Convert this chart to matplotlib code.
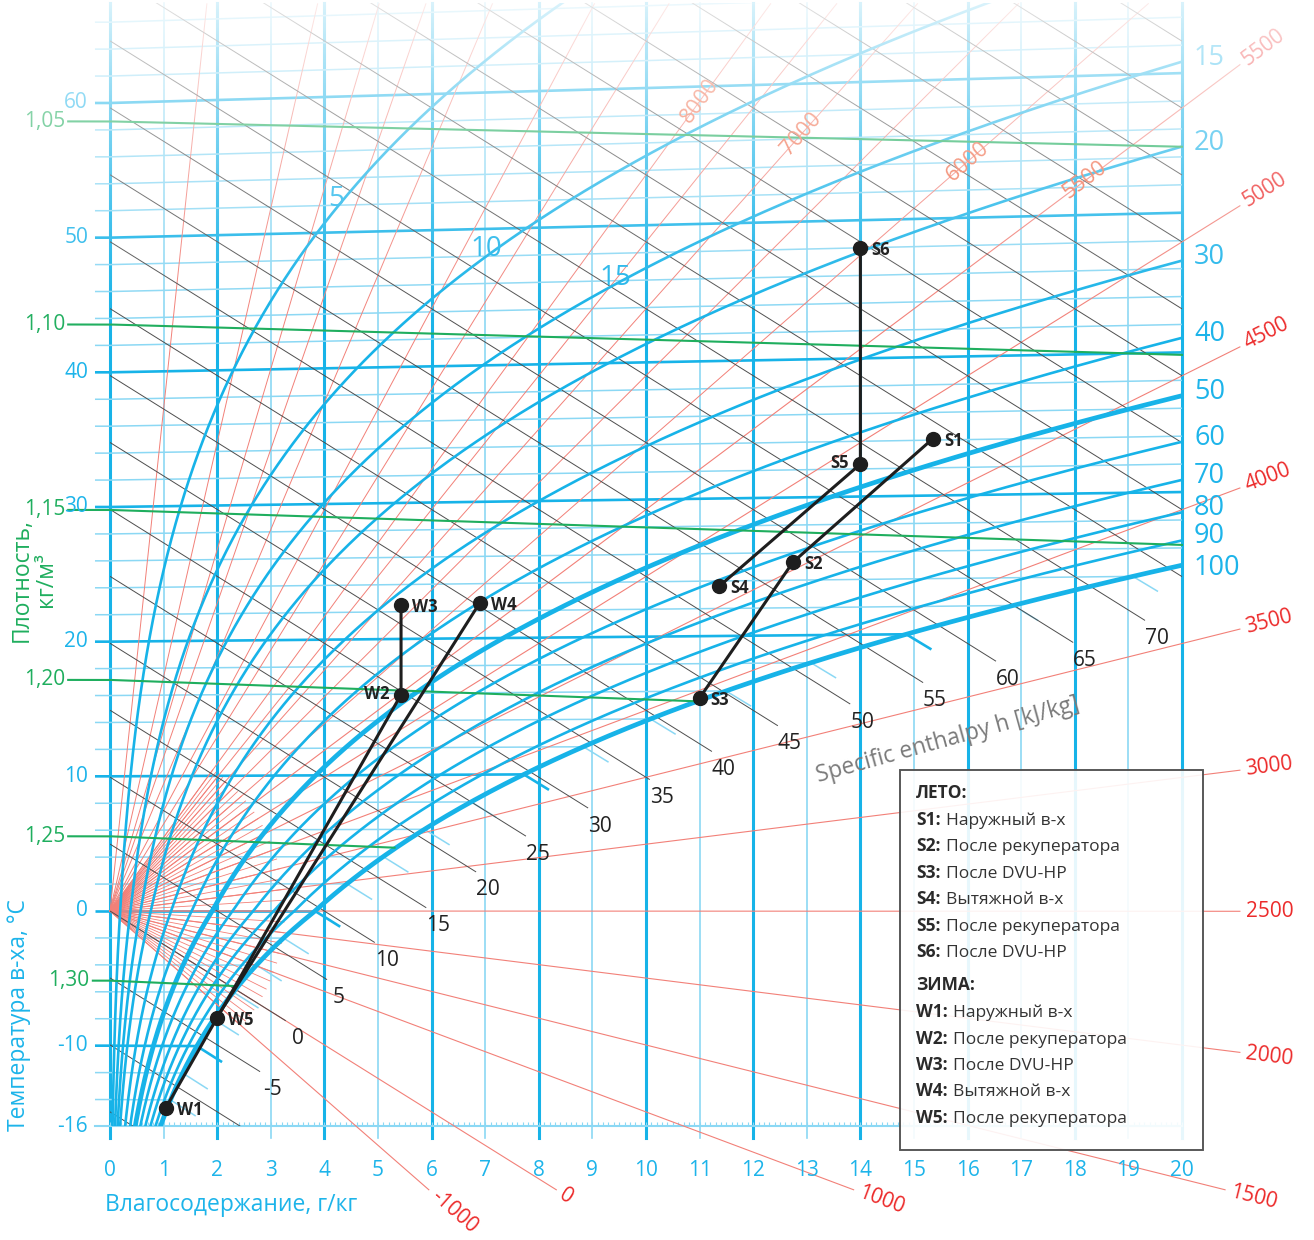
import numpy as np
import matplotlib.pyplot as plt
from matplotlib.patches import Rectangle

plt.rcParams['font.family'] = ['Open Sans', 'DejaVu Sans']

# --- данные диаграммы ---
p_atm = 100000.0  # Па

x_ticks = list(range(0, 21))
t_grid = list(range(-16, 67, 2))
t_labels = [-16, -10, 0, 10, 20, 30, 40, 50, 60]

rh_curves = [5, 10, 15, 20, 30, 40, 50, 60, 70, 80, 90, 100]
rh_thick = [50, 100]
rh_right = [15, 20, 30, 40, 50, 60, 70, 80, 90, 100]
rh_inner = [5, 10, 15]
rh_inner_x = [4.3, 7.1, 9.5]

rho_values = [1.05, 1.10, 1.15, 1.20, 1.25, 1.30]
rho_text = ['1,05', '1,10', '1,15', '1,20', '1,25', '1,30']

h_lines = list(range(-15, 120, 5))
h_labeled = list(range(-5, 75, 5))
h_end_x = [2.80, 3.28, 4.05, 4.94, 5.90, 6.83, 7.76, 8.92, 10.07, 11.23,
           12.46, 13.81, 15.17, 16.53, 17.97, 19.31]

k_outer = [-1000, 0, 1000, 1500, 2000, 2500, 3000, 3500, 4000, 4500, 5000, 5500]
k_inner = [5500, 6000, 7000, 8000]
k_inner_x = [18.2, 16.0, 12.9, 11.0]
k_thin = [6000, 6500, 7000, 7500, 8000, 9000, 10000, 12000, 14000, 16000, 20000, 40000]
k_fan = list(range(-1000, 8001, 250))

pt_names = ['S1', 'S2', 'S3', 'S4', 'S5', 'S6', 'W1', 'W2', 'W3', 'W4', 'W5']
pt_x = [15.35, 12.74, 11.0, 11.36, 14.0, 14.0, 1.04, 5.43, 5.43, 6.9, 1.99]
pt_t = [34.1, 25.3, 15.5, 23.6, 32.35, 48.0, -14.6, 15.9, 22.5, 22.6, -7.9]
paths = [['S1', 'S2', 'S3'], ['S4', 'S5', 'S6'], ['W1', 'W2', 'W3'], ['W4', 'W5']]

legend_summer = [('S1:', 'Наружный в-х'), ('S2:', 'После рекуператора'),
                 ('S3:', 'После DVU-HP'), ('S4:', 'Вытяжной в-х'),
                 ('S5:', 'После рекуператора'), ('S6:', 'После DVU-HP')]
legend_winter = [('W1:', 'Наружный в-х'), ('W2:', 'После рекуператора'),
                 ('W3:', 'После DVU-HP'), ('W4:', 'Вытяжной в-х'),
                 ('W5:', 'После рекуператора')]

# --- цвета ---
BLUE = '#17b3e8'
BLUE_LT = '#8bd8f4'
BLUE_TXT = '#1db4ea'
GREEN = '#1fae5e'
RED_LN = '#f28078'
RED_TXT = '#ec2a2a'
GRAY_H = '#4d4d4d'

# масштаб: пикселей на г/кг и на °C
SX, SY = 53.6, 13.467
PX0, PY0 = 110, 911
W, H = 1314, 1240


def psat(t):
    t = np.asarray(t, float)
    return np.where(t >= 0, 611.2 * np.exp(17.62 * t / (243.12 + t)),
                    611.2 * np.exp(22.46 * t / (272.62 + t)))


def x_sat(t, phi=1.0):
    pw = phi * psat(t)
    return 622.0 * pw / (p_atm - pw)


def t_at_x(x, phi):
    pw = x * p_atm / (622.0 + x)
    a = np.log(pw / phi / 611.2)
    return np.where(a >= 0, 243.12 * a / (17.62 - a), 272.62 * a / (22.46 - a))


def Yc(x, t):
    return np.asarray(t) * (1 + 0.00185 * np.maximum(np.asarray(x, float), 0))


def k_slope(k):
    return (k / 1000.0 - 2.501) / 1.006


def fx(px):
    return px / W


def fy(py):
    return 1 - py / H


fig = plt.figure(figsize=(W / 100, H / 100), dpi=100)
ax = fig.add_axes([0, 0, 1, 1])
ax.axis('off')
XL = (-PX0 / SX, (W - PX0) / SX)
YL = ((PY0 - H) / SY, PY0 / SY)

Y_BOT, Y_TOP = -16.0, 67.4
clip = Rectangle((0, Y_BOT), 20, Y_TOP - Y_BOT, transform=ax.transData)
clip_l = Rectangle((-0.3, Y_BOT), 20.3, Y_TOP - Y_BOT, transform=ax.transData)


def line(xs, ys, cp=clip, **kw):
    ln, = ax.plot(xs, ys, solid_capstyle='butt', **kw)
    if cp is not None:
        ln.set_clip_path(cp)
    return ln


# вертикальная сетка
for xv in x_ticks:
    even = xv % 2 == 0
    ax.plot([xv, xv], [-16.85, Y_TOP], color=BLUE if even else BLUE_LT,
            lw=2.2 if even else 1.2, zorder=1)
ax.plot([-0.28, 20], [Y_BOT, Y_BOT], color=BLUE_LT, lw=1.5, zorder=1)
ax.vlines(np.arange(0, 20.001, 0.1), Y_BOT, Y_BOT + 0.3, color=BLUE_LT, lw=0.8, zorder=1)

# изотермы
for t in t_grid[1:]:
    xe = min(float(x_sat(t)), 20.0)
    xs = np.array([-0.28, 0, xe])
    main = t % 10 == 0
    kw = dict(color=BLUE if main else BLUE_LT, lw=1.9 if main else 1.1, zorder=2)
    line(xs, Yc(xs, t), cp=clip_l, **kw)
    if xe < 20:
        s = (0.00419 * t - 2.501) / 1.006
        y0 = float(Yc(xe, t))
        line([xe, xe + 0.47], [y0, y0 + s * 0.47], **kw)

# лучи Δh/Δx
for k in k_fan:
    s = k_slope(k)
    dx = 175 / np.hypot(SX, s * SY)
    line([0, dx], [0, s * dx], color=RED_LN, lw=0.6, zorder=2)
for k in k_thin:
    s = k_slope(k)
    xe = Y_TOP / s
    line([0, xe], [0, s * xe], color=RED_LN, lw=0.7, zorder=2)
for k in k_outer:
    s = k_slope(k)
    xe = 21.08
    if s * xe < -20.7:
        xe = -20.7 / s
    ax.plot([0, xe], [0, s * xe], color=RED_LN, lw=0.8, zorder=2)
    ang = np.degrees(np.arctan2(s * SY, SX))
    ax.annotate(str(k), (xe, s * xe), xytext=(6 * np.cos(np.radians(ang)), 6 * np.sin(np.radians(ang))),
                textcoords='offset pixels', rotation=ang, rotation_mode='anchor',
                ha='left', va='center', fontsize=15, color=RED_TXT, zorder=6)
for k, xk in zip(k_inner, k_inner_x):
    s = k_slope(k)
    ang = np.degrees(np.arctan2(s * SY, SX))
    ax.text(xk, s * xk, str(k), rotation=ang, rotation_mode='anchor', ha='center', va='center',
            fontsize=15.5, color='#f06a48', zorder=6)

# линии энтальпии
for h in h_lines:
    if h in h_labeled:
        xe = h_end_x[h_labeled.index(h)]
    elif h > 70:
        xe = 20.0
    else:
        xe = 3.0
    xs = np.array([0, xe])
    ys = (h - 2.501 * xs) / 1.006
    line(xs, ys, color=GRAY_H, lw=0.7, zorder=3)
    if h in h_labeled:
        ax.annotate(str(h), (xe, ys[-1]), xytext=(12, -18), textcoords='offset pixels',
                    ha='center', va='center', fontsize=15, color='#222222', zorder=6)

# линии относительной влажности
tt = np.linspace(-16.5, 70, 900)
for phi in rh_curves:
    xs = x_sat(tt, phi / 100)
    m = xs <= 21
    line(xs[m], Yc(xs[m], tt[m]), color=BLUE, lw=3.4 if phi in rh_thick else 1.9, zorder=4)
for phi in rh_right:
    tr = float(t_at_x(20.0, phi / 100))
    dy = 3 if phi == 100 else -4
    ax.annotate(str(phi), (20, float(Yc(20, tr))), xytext=(12, -dy), textcoords='offset pixels',
                ha='left', va='center', fontsize=19.5, color=BLUE_TXT, zorder=6)
for phi, xi in zip(rh_inner, rh_inner_x):
    ti = float(t_at_x(xi, phi / 100))
    ax.annotate(str(phi), (xi, float(Yc(xi, ti))), xytext=(-4, 4), textcoords='offset pixels',
                ha='center', va='center', fontsize=20, color=BLUE_TXT, zorder=6)

# линии плотности
xg = np.linspace(0, 20, 600)
for rho, lab in zip(rho_values, rho_text):
    T = p_atm * (1 + xg / 1000) / (287.05 * rho * (1 + 1.6078 * xg / 1000)) - 273.15
    m = xg <= x_sat(T)
    x_start = -0.78 if T[0] > -2 else -0.32
    xs = np.concatenate([[x_start], xg[m]])
    ys = np.concatenate([[T[0]], Yc(xg[m], T[m])])
    ax.plot(xs, ys, color=GREEN, lw=1.5, zorder=5)
    ax.text(x_start - 0.06, T[0], lab, ha='right', va='center', color=GREEN, fontsize=15, zorder=6)

# подписи осей
for xv in x_ticks:
    ax.text(xv, (PY0 - 1170) / SY, str(xv), ha='center', va='center', fontsize=15, color=BLUE_TXT)
for t in t_labels:
    ax.text(-0.41, t, str(t), ha='right', va='center', fontsize=15, color=BLUE_TXT, zorder=6)

ax.text(fx(105), fy(1205), 'Влагосодержание, г/кг', transform=fig.transFigure,
        ha='left', va='center', fontsize=16.5, color=BLUE_TXT)
ax.text(fx(19), fy(1015), 'Температура в-ха, °C', transform=fig.transFigure, rotation=90,
        ha='center', va='center', fontsize=16.5, color=BLUE_TXT)
ax.text(fx(34), fy(580), 'Плотность,\nкг/м³', transform=fig.transFigure, rotation=90,
        ha='center', va='center', fontsize=16.5, color=GREEN, linespacing=1.05,
        multialignment='center')
ax.text(fx(948), fy(740), 'Specific enthalpy h [kJ/kg]', transform=fig.transFigure,
        rotation=15.5, rotation_mode='anchor', ha='center', va='center', fontsize=16.5,
        color='#7a7a7a', zorder=6)

# осветление верхней части
ny = 256
pyv = np.linspace(350, 0, ny)
img = np.ones((ny, 1, 4))
img[:, 0, 3] = 0.85 * (1 - pyv / 350) ** 1.5
ax.imshow(img, extent=[XL[0], XL[1], (PY0 - 350) / SY, YL[1]], origin='lower',
          aspect='auto', zorder=9, interpolation='bilinear')

# процессы
pts = {n: (x, float(Yc(x, t))) for n, x, t in zip(pt_names, pt_x, pt_t)}
for pth in paths:
    ax.plot([pts[n][0] for n in pth], [pts[n][1] for n in pth], color='#1e1e1e', lw=2.2, zorder=12)
left_lab = ['S5', 'W2']
for n in pt_names:
    x, y = pts[n]
    ax.plot(x, y, 'o', ms=10, color='#1e1e1e', zorder=13)
    if n in left_lab:
        ax.annotate(n, (x, y), xytext=(-12, 1), textcoords='offset pixels', ha='right', va='center',
                    fontsize=12, fontweight='bold', color='#222222', zorder=13)
    else:
        ax.annotate(n, (x, y), xytext=(11, -2), textcoords='offset pixels', ha='left', va='center',
                    fontsize=12, fontweight='bold', color='#222222', zorder=13)

# легенда
ax.add_patch(Rectangle((fx(900), fy(1150)), (1203 - 900) / W, (1150 - 770) / H,
                       transform=fig.transFigure, facecolor='white', alpha=0.9,
                       edgecolor='#555555', lw=1.2, zorder=20))
ax.add_patch(Rectangle((fx(900), fy(1150)), (1203 - 900) / W, (1150 - 770) / H,
                       transform=fig.transFigure, facecolor='none',
                       edgecolor='#555555', lw=1.2, zorder=20))


def legend_row(py, head, body):
    b = ax.text(fx(916), fy(py), head, transform=fig.transFigure, ha='left', va='center',
                fontsize=12.5, fontweight='bold', color='#2a2a2a', zorder=21)
    if body:
        ax.annotate(body, xy=(1, 0), xycoords=b, xytext=(5, 0), textcoords='offset pixels',
                    ha='left', va='bottom', fontsize=12.5, color='#333333', zorder=21)


legend_row(793, 'ЛЕТО:', None)
for i, (hd, bd) in enumerate(legend_summer):
    legend_row(820 + 26.4 * i, hd, bd)
legend_row(985, 'ЗИМА:', None)
for i, (hd, bd) in enumerate(legend_winter):
    legend_row(1012 + 26.5 * i, hd, bd)

ax.set_xlim(*XL)
ax.set_ylim(*YL)
fig.savefig('out.png', dpi=100)
